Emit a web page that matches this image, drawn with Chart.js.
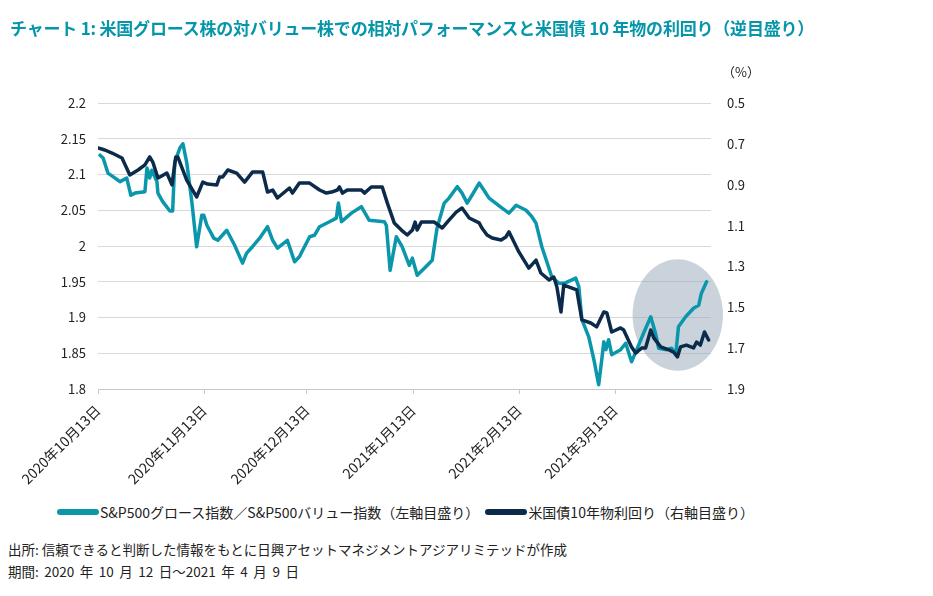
<!DOCTYPE html>
<html>
<head>
<meta charset="utf-8">
<script src="https://cdn.jsdelivr.net/npm/chart.js@4.4.1/dist/chart.umd.min.js"></script>
<style>
  body { margin: 0; background: #fff; width: 933px; height: 596px; overflow: hidden; position: relative;
         font-family: "Noto Sans CJK JP", sans-serif; color: #222; }
  #chart { position: absolute; left: 0; top: 0; }
  .title { position: absolute; left: 10px; top: 15px; font-size: 17px; font-weight: bold; color: #0696aa; white-space: nowrap; letter-spacing: -0.2px; }
  .unit { position: absolute; left: 722px; top: 62px; font-size: 13px; }
  .legend { position: absolute; left: 57px; top: 502px; font-size: 14px; display: flex; align-items: center; white-space: nowrap; }
  .legend .sw { display: inline-block; width: 42px; height: 6px; border-radius: 3px; margin-right: 1px; }
  .note { position: absolute; left: 8px; font-size: 13.5px; white-space: nowrap; }
</style>
</head>
<body>
<canvas id="chart" width="933" height="496"></canvas>
<div class="title">チャート 1: 米国グロース株の対バリュー株での相対パフォーマンスと米国債 10 年物の利回り（逆目盛り）</div>
<div class="unit">（%）</div>
<div class="legend">
  <span class="sw" style="background:#0b97ab"></span><span>S&amp;P500グロース指数／S&amp;P500バリュー指数（左軸目盛り）</span>
  <span class="sw" style="background:#0c2b4b;margin-left:6px"></span><span>米国債10年物利回り（右軸目盛り）</span>
</div>
<div class="note" style="top:539px">出所: 信頼できると判断した情報をもとに日興アセットマネジメントアジアリミテッドが作成</div>
<div class="note" style="top:561px; word-spacing: 2.5px">期間: 2020 年 10 月 12 日～2021 年 4 月 9 日</div>
<script>
// days counted from 2020-10-13
const tickDays = [0, 31, 61, 92, 123, 151];
const tickLabels = ['2020年10月13日', '2020年11月13日', '2020年12月13日', '2021年1月13日', '2021年2月13日', '2021年3月13日'];

// S&P500 growth / value ratio (left axis)
const ratioDays = [0.6, 1.5, 2.9, 5, 6.4, 8.4, 9.6, 10.8, 13.7, 14.3, 15.1, 15.7, 17.2, 17.5, 18.9, 21, 21.8, 22.4, 23.9, 24.8,
  25.9, 27.4, 28.8, 30.3, 30.9, 31.8, 33.8, 35, 37.6, 39.9, 42.2, 43.4, 45.1, 47.2, 49.5, 51, 52.4, 55.3, 57.4, 58.8,
  61.8, 63.2, 64.7, 67.6, 69.6, 70.2, 71.1, 74, 76.9, 79.2, 83.6, 84.2, 85.3, 87.1, 88.8, 90.9, 91.8, 93.2, 95.3, 97.6,
  99, 101.1, 102.5, 104.9, 106.3, 107.8, 109.2, 111.3, 112.7, 114.2, 118, 120, 122.1, 125, 126.7, 127.9, 129.6, 132.5, 134.6, 136.3,
  139.5, 140.4, 141.3, 143.3, 144.8, 146.2, 147.1, 147.7, 148.3, 149.1, 150, 152.6, 154.1, 155.8, 157.3, 159.3, 161.4, 162.8, 163.7, 166,
  167.5, 168.7, 169.5, 171.6, 173.9, 175.4, 176.2, 177.7];
const ratioValues = [2.127, 2.123, 2.102, 2.095, 2.090, 2.095, 2.071, 2.074, 2.076, 2.109, 2.095, 2.106, 2.090, 2.074, 2.062, 2.049, 2.049, 2.117, 2.137, 2.143,
  2.117, 2.062, 1.999, 2.043, 2.043, 2.029, 2.011, 2.008, 2.022, 2.001, 1.976, 1.990, 1.999, 2.011, 2.027, 2.008, 1.997, 2.008, 1.978, 1.985,
  2.013, 2.015, 2.027, 2.034, 2.039, 2.060, 2.034, 2.046, 2.055, 2.036, 2.034, 2.029, 1.966, 2.013, 1.999, 1.973, 1.983, 1.959, 1.969, 1.980,
  2.025, 2.060, 2.067, 2.083, 2.074, 2.060, 2.071, 2.088, 2.078, 2.067, 2.053, 2.046, 2.057, 2.050, 2.041, 2.032, 1.999, 1.957, 1.948, 1.948,
  1.955, 1.943, 1.897, 1.873, 1.841, 1.806, 1.841, 1.866, 1.855, 1.869, 1.848, 1.855, 1.864, 1.838, 1.855, 1.878, 1.901, 1.878, 1.857, 1.855,
  1.857, 1.848, 1.887, 1.901, 1.913, 1.917, 1.934, 1.950];

// US 10y treasury yield, % (right axis, reversed)
const yieldDays = [0, 2, 4.1, 7, 9.3, 11.7, 13.7, 15.1, 16, 17.5, 18.6, 20.1, 21.6, 22.7, 23.3, 25.9, 28.8, 30.6, 32, 34.7,
  35.5, 36.4, 37.9, 40.5, 42.8, 45.1, 48.1, 49.5, 51, 52.4, 55.9, 56.8, 58.8, 61.8, 64.7, 66.7, 68.2, 69.9, 70.5, 71.4,
  72.8, 76.9, 77.8, 79.8, 83, 84.5, 86.5, 88.6, 90.3, 91.8, 92.6, 93.2, 94.4, 98.2, 100.5, 102.5, 104.6, 106.3, 108.4, 111.3,
  112.1, 113.6, 115.1, 117.7, 119.1, 120, 120.9, 122.9, 125.8, 127.9, 129.3, 131.7, 133.1, 134, 135.2, 136, 138.4, 139.8, 141.3, 143.9,
  145.6, 147.7, 148.6, 150, 152.6, 153.5, 155.8, 157, 158.8, 159.9, 161.4, 162.3, 164.3, 166.7, 168.1, 169.2, 170.1, 171.8, 173.9, 174.8,
  175.9, 177.1, 178.3];
const yieldValues = [0.720, 0.730, 0.745, 0.769, 0.852, 0.828, 0.803, 0.764, 0.789, 0.867, 0.857, 0.843, 0.901, 0.764, 0.764, 0.877, 0.960, 0.887, 0.897, 0.901,
  0.862, 0.862, 0.828, 0.843, 0.887, 0.838, 0.838, 0.936, 0.926, 0.965, 0.916, 0.941, 0.892, 0.892, 0.926, 0.941, 0.936, 0.926, 0.911, 0.941,
  0.926, 0.926, 0.941, 0.911, 0.911, 0.990, 1.087, 1.122, 1.146, 1.122, 1.083, 1.122, 1.083, 1.083, 1.112, 1.073, 1.034, 1.014, 1.063, 1.087,
  1.112, 1.146, 1.161, 1.171, 1.156, 1.131, 1.161, 1.229, 1.308, 1.269, 1.332, 1.366, 1.352, 1.401, 1.523, 1.391, 1.406, 1.415, 1.562, 1.577,
  1.596, 1.523, 1.528, 1.621, 1.601, 1.611, 1.694, 1.724, 1.699, 1.699, 1.611, 1.650, 1.694, 1.709, 1.719, 1.743, 1.694, 1.685, 1.699, 1.670,
  1.685, 1.621, 1.660];

const TEAL = '#0b97ab';
const NAVY = '#0c2b4b';
const FONT = '"Noto Sans CJK JP", sans-serif';

// grey highlight around the last weeks
const highlight = { day: 169.3, value: 1.9035, rxDays: 13.2, ryValue: 0.078 };

const ellipsePlugin = {
  id: 'ellipse',
  beforeDatasetsDraw(chart) {
    const { ctx, scales: { x, y } } = chart;
    const cx = x.getPixelForValue(highlight.day);
    const cy = y.getPixelForValue(highlight.value);
    const rx = x.getPixelForValue(highlight.day + highlight.rxDays) - cx;
    const ry = cy - y.getPixelForValue(highlight.value + highlight.ryValue);
    ctx.save();
    ctx.fillStyle = 'rgba(150,167,185,0.5)';
    ctx.beginPath();
    ctx.ellipse(cx, cy, rx, ry, 0, 0, Math.PI * 2);
    ctx.fill();
    ctx.restore();
  }
};

new Chart(document.getElementById('chart'), {
  type: 'line',
  data: {
    datasets: [
      {
        label: 'S&P500グロース指数／S&P500バリュー指数（左軸目盛り）',
        data: ratioDays.map((d, i) => ({ x: d, y: ratioValues[i] })),
        borderColor: TEAL, borderWidth: 3.5, yAxisID: 'y', order: 1
      },
      {
        label: '米国債10年物利回り（右軸目盛り）',
        data: yieldDays.map((d, i) => ({ x: d, y: yieldValues[i] })),
        borderColor: NAVY, borderWidth: 3.5, yAxisID: 'y2', order: 0
      }
    ]
  },
  options: {
    responsive: false,
    animation: false,
    layout: { padding: { top: 103, left: 0, right: 0, bottom: 0 } },
    elements: {
      point: { radius: 0 },
      line: { tension: 0, borderJoinStyle: 'round', borderCapStyle: 'round' }
    },
    plugins: { legend: { display: false }, tooltip: { enabled: false } },
    scales: {
      x: {
        type: 'linear', min: 0, max: 179,
        afterBuildTicks: (scale) => { scale.ticks = tickDays.map(v => ({ value: v })); },
        afterFit: (scale) => { scale.height = 107; },
        grid: { drawOnChartArea: false, drawTicks: true, tickLength: 5, color: '#c8c8c8' },
        border: { color: '#c8c8c8' },
        ticks: {
          autoSkip: false, maxRotation: 45, minRotation: 45, padding: 8,
          color: '#222', font: { family: FONT, size: 14 },
          callback: (v) => tickLabels[tickDays.indexOf(v)]
        }
      },
      y: {
        position: 'left', min: 1.8, max: 2.2,
        afterFit: (scale) => { scale.width = 98; },
        grid: { color: '#d9d9d9', drawTicks: false },
        border: { display: false },
        ticks: {
          stepSize: 0.05, padding: 12, color: '#222', font: { family: FONT, size: 13 },
          callback: (v) => String(+v.toFixed(2))
        }
      },
      y2: {
        position: 'right', min: 0.5, max: 1.9, reverse: true,
        afterFit: (scale) => { scale.width = 222; },
        grid: { display: false, drawTicks: false },
        border: { display: false },
        ticks: {
          stepSize: 0.2, padding: 16, color: '#222', font: { family: FONT, size: 13 },
          callback: (v) => (+v).toFixed(1)
        }
      }
    }
  },
  plugins: [ellipsePlugin]
});
</script>
</body>
</html>
